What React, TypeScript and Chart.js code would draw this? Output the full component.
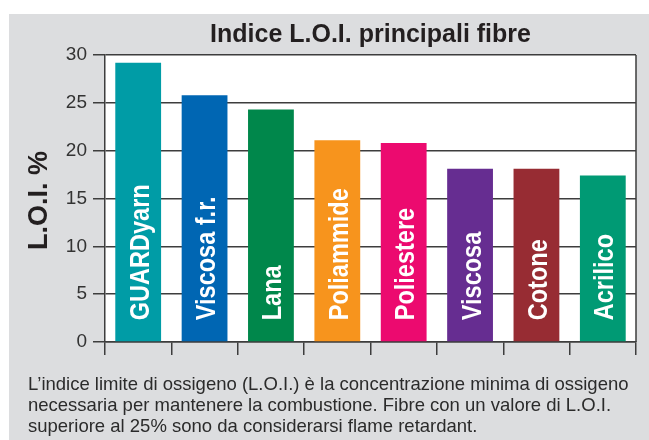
import React, { useEffect, useRef } from "react";
import { Chart, registerables } from "chart.js";

Chart.register(...registerables);

const categories = ["GUARDyarn", "Viscosa f.r.", "Lana", "Poliammide", "Poliestere", "Viscosa", "Cotone", "Acrilico"];
const loiValues = [29.2, 25.8, 24.3, 21.1, 20.8, 18.1, 18.1, 17.4];
const barColors = ["#009ca6", "#0066b3", "#00874b", "#f7941d", "#ec0a6f", "#662d91", "#972c33", "#009a74"];
const chartTitle = "Indice L.O.I. principali fibre";
const yAxisTitle = "L.O.I. %";
const captionLines = [
  "L\u2019indice limite di ossigeno (L.O.I.) è la concentrazione minima di ossigeno",
  "necessaria per mantenere la combustione. Fibre con un valore di L.O.I.",
  "superiore al 25% sono da considerarsi flame retardant.",
];

const GRID = "#3d3d3d";
const FONT = "'Liberation Sans', Arial, sans-serif";

export default function App() {
  const ref = useRef<HTMLCanvasElement>(null);

  useEffect(() => {
    const canvas = ref.current;
    if (!canvas) return;

    const decor = {
      id: "decor",
      beforeDraw(chart: any) {
        const { ctx, chartArea } = chart;
        ctx.save();
        ctx.fillStyle = "#ffffff";
        ctx.fillRect(chartArea.left, chartArea.top, chartArea.right - chartArea.left, chartArea.bottom - chartArea.top);
        ctx.restore();
      },
      afterDatasetsDraw(chart: any) {
        const { ctx, chartArea } = chart;
        ctx.save();
        // right border
        ctx.strokeStyle = GRID;
        ctx.lineWidth = 1.5;
        ctx.beginPath();
        ctx.moveTo(chartArea.right, chartArea.top);
        ctx.lineTo(chartArea.right, chartArea.bottom);
        ctx.stroke();

        // bar labels
        const meta = chart.getDatasetMeta(0);
        ctx.fillStyle = "#ffffff";
        ctx.font = `bold 28px ${FONT}`;
        ctx.textAlign = "left";
        ctx.textBaseline = "alphabetic";
        meta.data.forEach((bar: any, i: number) => {
          ctx.save();
          ctx.translate(bar.x + 10.5, bar.base - 21);
          ctx.rotate(-Math.PI / 2);
          ctx.scale(0.84, 1);
          ctx.fillText(categories[i], 0, 0);
          ctx.restore();
        });

        // title
        ctx.fillStyle = "#231f20";
        ctx.font = `bold 25px ${FONT}`;
        ctx.textAlign = "center";
        ctx.fillText(chartTitle, (chartArea.left + chartArea.right) / 2, 28);

        // y axis title
        ctx.save();
        ctx.translate(38, (chartArea.top + chartArea.bottom) / 2 + 2);
        ctx.rotate(-Math.PI / 2);
        ctx.font = `bold 27px ${FONT}`;
        ctx.textAlign = "center";
        ctx.fillText(yAxisTitle, 0, 0);
        ctx.restore();
        ctx.restore();
      },
    };

    const chart = new Chart(canvas, {
      type: "bar",
      data: {
        labels: categories,
        datasets: [
          {
            data: loiValues,
            backgroundColor: barColors,
            borderWidth: 0,
            barPercentage: 0.69,
            categoryPercentage: 1,
          },
        ],
      },
      options: {
        responsive: false,
        animation: false,
        devicePixelRatio: 1,
        layout: { padding: { top: 41, right: 13, left: 0, bottom: 0 } },
        plugins: { legend: { display: false }, tooltip: { enabled: false }, title: { display: false } },
        scales: {
          x: {
            ticks: { display: false },
            grid: { drawOnChartArea: false, drawTicks: true, tickLength: 13, offset: true, color: GRID, lineWidth: 1.5 },
            border: { display: true, color: GRID, width: 1.5 },
            afterFit(scale: any) {
              scale.height = 32;
            },
          },
          y: {
            min: 0,
            max: 30,
            ticks: { stepSize: 5, color: "#333333", font: { family: FONT, size: 19 }, padding: 6 },
            grid: { color: GRID, lineWidth: 1.5, tickLength: 12 },
            border: { display: true, color: GRID, width: 1.5 },
            afterFit(scale: any) {
              scale.width = 96;
            },
          },
        },
      },
      plugins: [decor],
    });
    return () => chart.destroy();
  }, []);

  return (
    <div
      style={{
        position: "fixed",
        left: 9,
        top: 14,
        width: 640,
        height: 426,
        background: "#dcdddf",
        overflow: "hidden",
      }}
    >
      <canvas ref={ref} width={640} height={360} style={{ display: "block" }} />
      <div
        style={{
          position: "absolute",
          left: 19,
          top: 359,
          fontFamily: FONT,
          fontSize: 18.5,
          lineHeight: "21px",
          color: "#2b2b2b",
          whiteSpace: "nowrap",
        }}
      >
        {captionLines.map((l, i) => (
          <div key={i}>{l}</div>
        ))}
      </div>
    </div>
  );
}
